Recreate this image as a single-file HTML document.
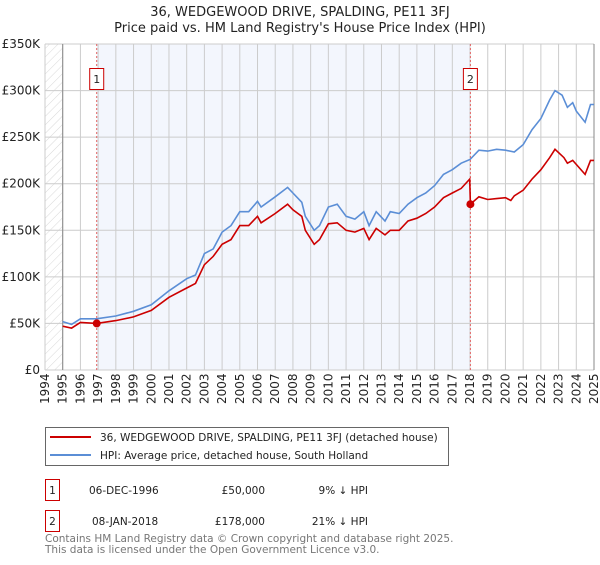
<!DOCTYPE html>
<html><head><meta charset="utf-8"><style>
body{margin:0;background:#fff;font-family:"Liberation Sans","DejaVu Sans",sans-serif;}
svg text{font-family:"DejaVu Sans","Liberation Sans",sans-serif;}
</style></head><body>
<svg id="c" width="600" height="560" xmlns="http://www.w3.org/2000/svg">
<defs><pattern id="h" width="6" height="6" patternUnits="userSpaceOnUse" patternTransform="rotate(45)"><line x1="0" y1="0" x2="0" y2="6" stroke="#d8d8d8" stroke-width="1"/></pattern></defs>
<text x="300" y="16" text-anchor="middle" font-size="13" fill="#222">36, WEDGEWOOD DRIVE, SPALDING, PE11 3FJ</text>
<text x="300" y="32" text-anchor="middle" font-size="13" fill="#222">Price paid vs. HM Land Registry's House Price Index (HPI)</text>
<g id="plot"></g>
<g>
<rect x="45.5" y="427.5" width="403" height="38" fill="#fff" stroke="#666"/>
<line x1="50" y1="437" x2="91" y2="437" stroke="#cc0000" stroke-width="2"/>
<text x="100" y="441" font-size="10.5" fill="#222">36, WEDGEWOOD DRIVE, SPALDING, PE11 3FJ (detached house)</text>
<line x1="50" y1="455" x2="91" y2="455" stroke="#5b8ed6" stroke-width="2"/>
<text x="100" y="459" font-size="10.5" fill="#222">HPI: Average price, detached house, South Holland</text>
</g>
<g font-size="10.5" fill="#222">
<rect x="45.5" y="479.5" width="14" height="21" fill="#fff" stroke="#cc0000"/>
<text x="52.5" y="494" text-anchor="middle">1</text>
<text x="89" y="494">06-DEC-1996</text><text x="265" y="494" text-anchor="end">£50,000</text><text x="368" y="494" text-anchor="end">9% ↓ HPI</text>
<rect x="45.5" y="510.5" width="14" height="21" fill="#fff" stroke="#cc0000"/>
<text x="52.5" y="525" text-anchor="middle">2</text>
<text x="92" y="525">08-JAN-2018</text><text x="265" y="525" text-anchor="end">£178,000</text><text x="368" y="525" text-anchor="end">21% ↓ HPI</text>
</g>
<text x="45" y="542" font-size="10.5" fill="#777">Contains HM Land Registry data © Crown copyright and database right 2025.</text>
<text x="45" y="553" font-size="10.5" fill="#777">This data is licensed under the Open Government Licence v3.0.</text>
</svg>
<script>
const hpiT=[1995,1995.5,1996,1996.9,1998,1999,2000,2001,2002,2002.5,2003,2003.5,2004,2004.5,2005,2005.5,2006,2006.2,2007,2007.7,2008,2008.5,2008.7,2009.2,2009.5,2010,2010.5,2011,2011.5,2012,2012.3,2012.7,2013.2,2013.5,2014,2014.5,2015,2015.5,2016,2016.5,2017,2017.5,2018,2018.5,2019,2019.5,2020,2020.5,2021,2021.5,2022,2022.5,2022.8,2023.2,2023.5,2023.8,2024,2024.5,2024.8,2025];
const hpiV=[52,49,55,55,58,63,70,85,98,102,125,130,148,155,170,170,181,175,186,196,190,180,165,150,155,175,178,165,162,170,155,170,160,170,168,178,185,190,198,210,215,222,226,236,235,237,236,234,242,258,270,290,300,295,282,287,278,266,285,285];
const redT=[1995,1995.5,1996,1996.92,1998,1999,2000,2001,2002,2002.5,2003,2003.5,2004,2004.5,2005,2005.5,2006,2006.2,2007,2007.7,2008,2008.5,2008.7,2009.2,2009.5,2010,2010.5,2011,2011.5,2012,2012.3,2012.7,2013.2,2013.5,2014,2014.5,2015,2015.5,2016,2016.5,2017,2017.5,2017.98,2018.02,2018.5,2019,2019.5,2020,2020.3,2020.5,2021,2021.5,2022,2022.5,2022.8,2023.3,2023.5,2023.8,2024.5,2024.8,2025];
const redV=[47,45,51,50,53,57,64,78,88,93,113,122,135,140,155,155,165,158,168,178,172,165,150,135,140,157,158,150,148,152,140,152,145,150,150,160,163,168,175,185,190,195,205,178,186,183,184,185,182,187,193,205,215,228,237,228,222,225,210,225,225];
const saleT=[1996.92,2018.02];
const saleV=[50,178];
const saleLabels=["1","2"];
const yTicks=[0,50,100,150,200,250,300,350];
const xYears=[];for(let y=1994;y<=2025;y++)xYears.push(y);
const L=45,R=594,T=44,B=370;
const X=t=>L+(t-1994)*(R-L)/31;
const Y=v=>B-v*(B-T)/350;
const ns="http://www.w3.org/2000/svg",g=document.getElementById('plot');
function mk(tag,a,p){const e=document.createElementNS(ns,tag);for(const k in a)e.setAttribute(k,a[k]);(p||g).appendChild(e);return e;}
mk('rect',{x:L,y:T,width:R-L,height:B-T,fill:'#fff'});
let e=mk('rect',{x:X(saleT[0]),y:T,width:X(saleT[1])-X(saleT[0]),height:B-T,fill:'#f3f6fd'});


e=mk('rect',{x:L,y:T,width:X(1995)-L,height:B-T,fill:'url(#h)'});


for(const y of xYears){
 e=mk('line',{x1:X(y),x2:X(y),y1:T,y2:B,stroke:'#ccc','stroke-width':1});
 
 
 e=mk('text',{x:0,y:0,transform:`translate(${X(y)+4},${B+34}) rotate(-90)`,'font-size':12,fill:'#222'});
 e.textContent=y;
 
 
}
for(const v of yTicks){
 e=mk('line',{x1:L,x2:R,y1:Y(v),y2:Y(v),stroke:'#ccc','stroke-width':1});
 
 
 e=mk('text',{x:40,y:Y(v)+4,'text-anchor':'end','font-size':12,fill:'#222'});
 e.textContent=v===0?'£0':'£'+v+'K';
 
 
}
mk('line',{x1:X(1995),x2:X(1995),y1:T,y2:B,stroke:'#888'});
mk('line',{x1:R,x2:R,y1:T,y2:B,stroke:'#888'});
for(let i=0;i<saleT.length;i++){
 e=mk('line',{x1:X(saleT[i]),x2:X(saleT[i]),y1:T,y2:B,stroke:'#e06060','stroke-dasharray':'2,2'});
 
 
 const bx=X(saleT[i]);
 e=mk('rect',{x:bx-7,y:68.5,width:14,height:21,fill:'#fff',stroke:'#cc0000'});
 
 
 e=mk('text',{x:bx,y:83,'text-anchor':'middle','font-size':11,fill:'#222'});
 e.textContent=saleLabels[i];
 
 
}
function line(ts,vs){return ts.map((t,i)=>(i?'L':'M')+X(t).toFixed(1)+','+Y(vs[i]).toFixed(1)).join('');}
e=mk('path',{d:line(hpiT,hpiV),fill:'none',stroke:'#5b8ed6','stroke-width':1.6});


e=mk('path',{d:line(redT,redV),fill:'none',stroke:'#cc0000','stroke-width':1.6});


for(let i=0;i<saleT.length;i++){
 e=mk('circle',{cx:X(saleT[i]),cy:Y(saleV[i]),r:4,fill:'#cc0000'});
 
 
}
</script>
</body></html>
